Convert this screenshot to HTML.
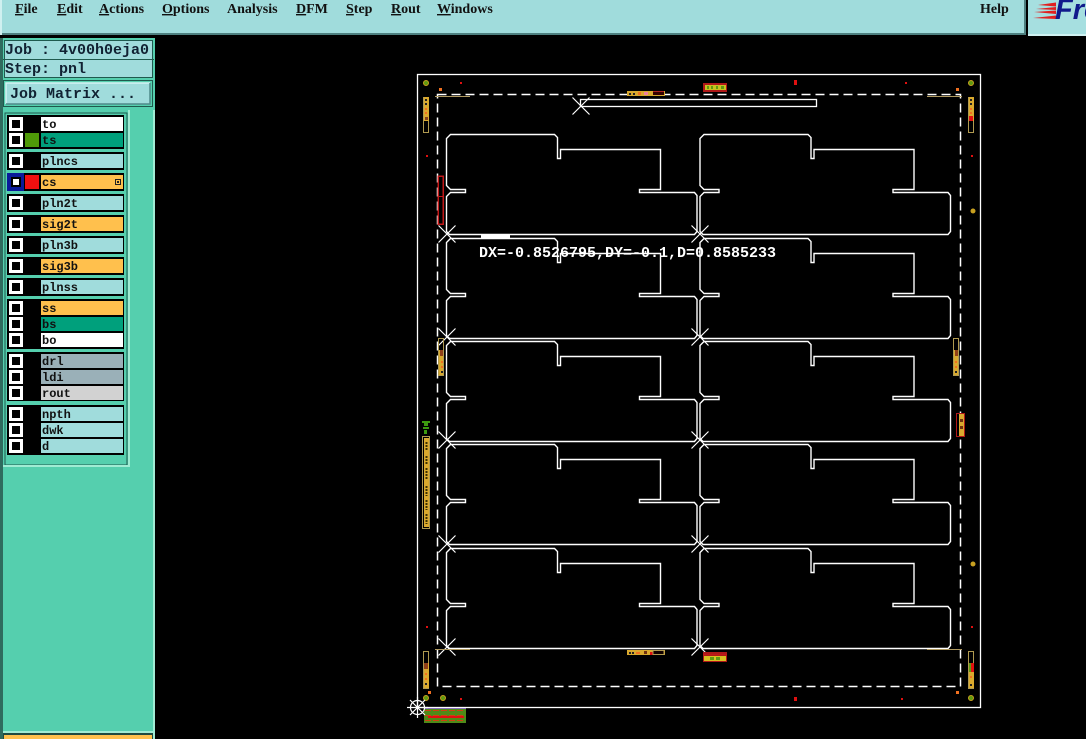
<!DOCTYPE html>
<html><head><meta charset="utf-8"><style>
html,body{margin:0;padding:0;background:#000;width:1086px;height:739px;overflow:hidden}
svg{display:block}
.m{font:bold 14px "Liberation Serif",serif;fill:#111}
.j{font:bold 15px "Liberation Mono",monospace;fill:#123}
.l{font:bold 12px "Liberation Mono",monospace;fill:#111}
.y{fill:#d9a92e}.r{fill:#e01010}.g{fill:#5f9a10}.o{fill:#f07020}
</style></head><body>
<svg width="1086" height="739" viewBox="0 0 1086 739" xmlns="http://www.w3.org/2000/svg">
<defs>
<path id="p" fill="none" stroke="#fff" stroke-width="1.400" d="M450.500,134.500H554.500L557.500,137.500V158.500H560.500V149.500H660.500V189.500H639.500V192.500H694.500L697,195.500V231.500L694.500,234.500H449.500L446.500,231.500V196.500L450.500,192.500H465.500V189.500H450.500L446.500,185.500V138.500Z"/>
<path id="x" fill="none" stroke="#fff" stroke-width="1.200" d="M-8.500,-8.500L8.500,8.500M8.500,-8.500L-8.500,8.500"/>
<g id="c"><rect x="9" y="0" width="14" height="14" fill="#fff"/><rect x="12" y="3" width="8" height="8" fill="#000"/></g>
</defs>

<rect width="1086" height="739" fill="#000"/>

<!-- menu bar -->
<rect x="0" y="0" width="1026" height="35" fill="#a0dcdc"/>
<rect x="0" y="33" width="1026" height="2" fill="#4e8080"/>
<rect x="1024" y="0" width="2" height="35" fill="#4e8080"/>
<rect x="0" y="0" width="2" height="35" fill="#d0f0f0"/>
<rect x="1026" y="0" width="2" height="38" fill="#000"/>
<rect x="1028" y="0" width="58" height="36" fill="#a6dfe0"/>
<rect x="1028" y="34" width="58" height="2" fill="#d0f2f2"/>
<g fill="#e02020"><polygon points="1034,12 1056,10.500 1056,14"/><polygon points="1038,5 1056,2.500 1056,6.500"/><polygon points="1033,18 1056,15.500 1056,19"/><polygon points="1036,9 1056,7 1056,10"/></g>
<text x="1055" y="19" font-family="Liberation Sans,sans-serif" font-weight="bold" font-style="italic" font-size="29" fill="#101a8c">Fre</text>
<g class="m">
<text x="15" y="13"><tspan text-decoration="underline">F</tspan>ile</text>
<text x="57" y="13"><tspan text-decoration="underline">E</tspan>dit</text>
<text x="99" y="13"><tspan text-decoration="underline">A</tspan>ctions</text>
<text x="162" y="13"><tspan text-decoration="underline">O</tspan>ptions</text>
<text x="227" y="13">Analysis</text>
<text x="296" y="13"><tspan text-decoration="underline">D</tspan>FM</text>
<text x="346" y="13"><tspan text-decoration="underline">S</tspan>tep</text>
<text x="391" y="13"><tspan text-decoration="underline">R</tspan>out</text>
<text x="437" y="13"><tspan text-decoration="underline">W</tspan>indows</text>
<text x="980" y="13">Help</text>
</g>

<!-- sidebar -->
<rect x="0" y="38" width="155" height="701" fill="#55cfae"/>
<rect x="0" y="38" width="3" height="701" fill="#2f6b5e"/>
<rect x="153" y="110" width="2" height="629" fill="#a0ecd4"/>
<rect x="3" y="38" width="152" height="72" fill="#55cfae"/>
<rect x="4.500" y="40.500" width="148" height="37" fill="#a0dcdc" stroke="#1f5a4e"/>
<rect x="3" y="59" width="151" height="1" fill="#1f5a4e"/>
<text x="5" y="54" class="j">Job : 4v00h0eja0</text>
<text x="5" y="73" class="j">Step: pnl</text>
<rect x="3.500" y="80.500" width="149" height="26" fill="#55cfae" stroke="#1f5a4e"/>
<rect x="6" y="83" width="144" height="21" fill="#a0dcdc"/>
<path d="M6,104V83H150" fill="none" stroke="#d4f4f4" stroke-width="1.500"/>
<path d="M6,104H150V83" fill="none" stroke="#4e8a8a" stroke-width="1.500"/>
<text x="10" y="98" class="j">Job Matrix ...</text>

<rect x="128" y="110" width="25" height="356" fill="#55cfae"/>
<rect x="128" y="110" width="2" height="356" fill="#a0ecd4"/>
<rect x="5" y="113" width="122" height="352" fill="#55cfae" stroke="#1f5a4e"/>
<rect x="3" y="465" width="127" height="2" fill="#a0ecd4"/>

<!-- layer groups -->
<g fill="#000">
<rect x="7" y="115" width="117" height="34"/>
<rect x="7" y="152" width="117" height="18"/>
<rect x="7" y="173" width="117" height="18"/>
<rect x="7" y="194" width="117" height="18"/>
<rect x="7" y="215" width="117" height="18"/>
<rect x="7" y="236" width="117" height="18"/>
<rect x="7" y="257" width="117" height="18"/>
<rect x="7" y="278" width="117" height="18"/>
<rect x="7" y="299" width="117" height="50"/>
<rect x="7" y="352" width="117" height="49"/>
<rect x="7" y="405" width="117" height="50"/>
</g>
<rect x="41" y="117" width="82" height="14" fill="#fff"/>
<rect x="41" y="133" width="82" height="14" fill="#00a07c"/>
<rect x="41" y="154" width="82" height="14" fill="#a0dcdc"/>
<rect x="41" y="175" width="82" height="14" fill="#ffc04d"/>
<rect x="41" y="196" width="82" height="14" fill="#a0dcdc"/>
<rect x="41" y="217" width="82" height="14" fill="#ffc04d"/>
<rect x="41" y="238" width="82" height="14" fill="#a0dcdc"/>
<rect x="41" y="259" width="82" height="14" fill="#ffc04d"/>
<rect x="41" y="280" width="82" height="14" fill="#a0dcdc"/>
<rect x="41" y="301" width="82" height="14" fill="#ffc04d"/>
<rect x="41" y="317" width="82" height="14" fill="#00a07c"/>
<rect x="41" y="333" width="82" height="14" fill="#fff"/>
<rect x="41" y="354" width="82" height="14" fill="#9ab0b8"/>
<rect x="41" y="370" width="82" height="14" fill="#9ab0b8"/>
<rect x="41" y="386" width="82" height="14" fill="#d2d2d2"/>
<rect x="41" y="407" width="82" height="14" fill="#a0dcdc"/>
<rect x="41" y="423" width="82" height="14" fill="#a0dcdc"/>
<rect x="41" y="439" width="82" height="14" fill="#a0dcdc"/>
<rect x="25" y="133" width="14" height="14" fill="#4f9a08"/>
<rect x="25" y="175" width="14" height="14" fill="#f01010"/>
<rect x="7" y="173" width="17" height="18" fill="#0a1a9a"/>
<use href="#c" y="117"/><use href="#c" y="133"/><use href="#c" y="154"/>
<rect x="11" y="177" width="10" height="10" fill="#000"/><rect x="13" y="179" width="6" height="6" fill="#fff"/>
<use href="#c" y="196"/><use href="#c" y="217"/><use href="#c" y="238"/><use href="#c" y="259"/><use href="#c" y="280"/>
<use href="#c" y="301"/><use href="#c" y="317"/><use href="#c" y="333"/>
<use href="#c" y="354"/><use href="#c" y="370"/><use href="#c" y="386"/>
<use href="#c" y="407"/><use href="#c" y="423"/><use href="#c" y="439"/>
<g class="l">
<text x="42" y="128">to</text><text x="42" y="144">ts</text><text x="42" y="165">plncs</text>
<text x="42" y="186">cs</text><text x="42" y="207">pln2t</text><text x="42" y="228">sig2t</text>
<text x="42" y="249">pln3b</text><text x="42" y="270">sig3b</text><text x="42" y="291">plnss</text>
<text x="42" y="312">ss</text><text x="42" y="328">bs</text><text x="42" y="344">bo</text>
<text x="42" y="365">drl</text><text x="42" y="381">ldi</text><text x="42" y="397">rout</text>
<text x="42" y="418">npth</text><text x="42" y="434">dwk</text><text x="42" y="450">d</text>
</g>
<rect x="115.500" y="179.500" width="5" height="5" fill="none" stroke="#222"/>
<rect x="117" y="181" width="2" height="2" fill="#222"/>
<rect x="3" y="731" width="152" height="2" fill="#a0ecd4"/>
<rect x="3" y="733" width="150" height="6" fill="#1f4a40"/>
<rect x="4" y="735" width="148" height="4" fill="#ffc04d"/>

<!-- board -->
<rect x="417.500" y="74.500" width="563" height="633" fill="none" stroke="#fff" stroke-width="1.300"/>
<rect x="437.500" y="94.500" width="523" height="592" fill="none" stroke="#fff" stroke-width="1.500" stroke-dasharray="9 5"/>
<rect x="580.500" y="99.500" width="236" height="7" fill="none" stroke="#fff" stroke-width="1.300"/>
<rect x="481" y="235" width="29" height="3" fill="#fff"/>
<g>
<use href="#p"/><use href="#p" x="253.500"/>
<use href="#p" y="104"/><use href="#p" x="253.500" y="104"/>
<use href="#p" y="207"/><use href="#p" x="253.500" y="207"/>
<use href="#p" y="310"/><use href="#p" x="253.500" y="310"/>
<use href="#p" y="414"/><use href="#p" x="253.500" y="414"/>
</g>
<use href="#x" x="581" y="106"/>
<use href="#x" x="447" y="234"/><use href="#x" x="700" y="234"/>
<use href="#x" x="447" y="337"/><use href="#x" x="700" y="337"/>
<use href="#x" x="447" y="440"/><use href="#x" x="700" y="440"/>
<use href="#x" x="447" y="544"/><use href="#x" x="700" y="544"/>
<use href="#x" x="447" y="647"/><use href="#x" x="700" y="647"/>
<text x="479" y="257" font-family="Liberation Mono,monospace" font-size="15" fill="#fff" font-weight="bold">DX=-0.8526795,DY=-0.1,D=0.8585233</text>

<!-- details -->
<g shape-rendering="crispEdges">
<rect x="435" y="96" width="35" height="1" fill="#b09a60"/>
<rect x="927" y="96" width="35" height="1" fill="#b09a60"/>
<rect x="435" y="649" width="35" height="1" fill="#b09a60"/>
<rect x="927" y="649" width="35" height="1" fill="#b09a60"/>
<rect x="460" y="82" width="2" height="2" class="r"/>
<rect x="439" y="88" width="3" height="3" class="o"/>
<rect x="426" y="155" width="2" height="2" class="r"/>
<rect x="971" y="155" width="2" height="2" class="r"/>
<rect x="905" y="82" width="2" height="2" class="r"/>
<rect x="794" y="80" width="3" height="5" class="r"/>
<rect x="956" y="88" width="3" height="3" class="o"/>
<rect x="426" y="626" width="2" height="2" class="r"/>
<rect x="971" y="626" width="2" height="2" class="r"/>
<rect x="460" y="698" width="2" height="2" class="r"/>
<rect x="901" y="698" width="2" height="2" class="r"/>
<rect x="794" y="697" width="3" height="4" class="r"/>
<rect x="428" y="691" width="3" height="3" class="o"/>
<rect x="956" y="691" width="3" height="3" class="o"/>

<rect x="423.500" y="97.500" width="5" height="35" fill="none" stroke="#b09a50"/>
<rect x="424" y="97" width="5" height="24" class="y"/>
<rect x="425" y="99" width="2" height="2" fill="#222"/><rect x="425" y="103" width="2" height="2" fill="#222"/>
<rect x="425" y="108" width="2" height="2" class="o"/><rect x="425" y="112" width="2" height="2" class="o"/><rect x="425" y="117" width="3" height="3" fill="#804020"/>

<rect x="968.500" y="97.500" width="5" height="35" fill="none" stroke="#b09a50"/>
<rect x="969" y="97" width="5" height="24" class="y"/>
<rect x="970" y="99" width="2" height="2" fill="#222"/><rect x="970" y="103" width="2" height="2" fill="#222"/>
<rect x="970" y="108" width="2" height="2" class="o"/><rect x="970" y="112" width="2" height="2" class="o"/><rect x="969" y="116" width="4" height="5" class="r"/>

<rect x="627" y="91" width="38" height="5" class="y"/>
<rect x="629" y="93" width="2" height="2" fill="#222"/><rect x="633" y="93" width="2" height="2" fill="#222"/><rect x="638" y="92" width="3" height="3" class="o"/><rect x="644" y="92" width="4" height="3" fill="#f080a0"/>
<rect x="653" y="92" width="11" height="3" fill="#300"/><rect x="653" y="91" width="11" height="1" fill="#b02020"/>

<rect x="703" y="83" width="24" height="9" fill="#b01818"/>
<rect x="705" y="85" width="21" height="5" fill="#c8c020"/>
<rect x="707" y="86" width="2" height="3" class="g"/><rect x="711" y="86" width="2" height="3" class="g"/><rect x="716" y="86" width="2" height="3" class="g"/><rect x="721" y="86" width="3" height="3" class="g"/>

<rect x="438" y="176" width="5" height="48" fill="none" stroke="#c01818" stroke-width="1.500"/>
<rect x="438" y="196" width="5" height="1" fill="#c01818"/>

<rect x="439" y="350" width="5" height="25" class="y"/>
<rect x="438.500" y="338.500" width="5" height="37" fill="none" stroke="#b09a50"/>
<rect x="440" y="350" width="3" height="6" fill="#904018"/><rect x="441" y="361" width="2" height="2" class="o"/><rect x="441" y="366" width="2" height="2" class="o"/><rect x="441" y="371" width="2" height="2" fill="#222"/>

<rect x="954" y="350" width="5" height="25" class="y"/>
<rect x="953.500" y="338.500" width="5" height="37" fill="none" stroke="#b09a50"/>
<rect x="955" y="350" width="3" height="6" fill="#904018"/><rect x="955" y="361" width="2" height="2" class="o"/><rect x="955" y="366" width="2" height="2" class="o"/><rect x="955" y="371" width="2" height="2" fill="#222"/>

<rect x="956.500" y="413.500" width="8" height="23" fill="none" stroke="#b01818"/>
<rect x="959" y="414" width="5" height="22" class="y"/><rect x="960" y="419" width="3" height="3" fill="#703010"/><rect x="960" y="426" width="3" height="3" fill="#703010"/>

<rect x="424" y="421" width="4" height="5" fill="#3c9a10"/><rect x="422" y="421" width="8" height="2" fill="#3c9a10"/><rect x="423" y="427" width="6" height="2" fill="#3c9a10"/><rect x="424" y="430" width="3" height="4" fill="#3c9a10"/>

<rect x="422.500" y="436.500" width="7" height="92" fill="none" stroke="#b09a50"/>
<rect x="424" y="438" width="5" height="89" class="y"/>
<path d="M426.500,442V451M426.500,456V464M426.500,468V479M426.500,486V496M426.500,500V510M426.500,514V524" stroke="#3a3000" stroke-width="2" stroke-dasharray="2 1" fill="none"/>

<rect x="423.500" y="651.500" width="5" height="37" fill="none" stroke="#b09a50"/>
<rect x="424" y="663" width="5" height="25" class="y"/>
<rect x="424" y="663" width="4" height="6" fill="#904018"/><rect x="425" y="673" width="2" height="2" class="o"/><rect x="425" y="678" width="2" height="2" class="o"/><rect x="425" y="683" width="2" height="2" fill="#222"/>

<rect x="968.500" y="651.500" width="5" height="37" fill="none" stroke="#b09a50"/>
<rect x="969" y="663" width="5" height="25" class="y"/>
<rect x="969" y="663" width="2" height="9" class="g"/><rect x="971" y="663" width="3" height="9" class="r"/><rect x="970" y="676" width="2" height="2" class="o"/><rect x="970" y="684" width="2" height="2" fill="#222"/>

<rect x="627" y="650" width="38" height="5" class="y"/>
<rect x="629" y="652" width="2" height="2" fill="#222"/><rect x="632" y="652" width="2" height="2" fill="#222"/><rect x="636" y="652" width="4" height="2" class="o"/><rect x="644" y="651" width="3" height="3" fill="#703010"/><rect x="650" y="652" width="3" height="3" class="r"/>
<rect x="653" y="650.500" width="11" height="4" fill="#100" stroke="#b09a50"/>

<rect x="703" y="652" width="24" height="10" fill="#b01818"/>
<rect x="704" y="656" width="22" height="5" fill="#d8c020"/>
<rect x="703" y="654" width="24" height="1" fill="#c01818"/>
<rect x="710" y="657" width="4" height="3" class="g"/><rect x="716" y="657" width="4" height="3" class="g"/>

<rect x="424" y="708" width="42" height="15" fill="#4f8a18"/>
<rect x="424" y="708" width="42" height="1" fill="#8a70c0"/>
<path d="M425,710.500H465M425,715.500H465M425,720.500H465" stroke="#d04010" stroke-dasharray="6 2" fill="none"/>
<rect x="428" y="716" width="36" height="2" fill="#e01010"/>
</g>

<circle cx="426" cy="83" r="2.500" fill="#5f9a10" stroke="#c8a020"/>
<circle cx="971" cy="83" r="2.500" fill="#5f9a10" stroke="#c8a020"/>
<circle cx="426" cy="698" r="2.500" fill="#5f9a10" stroke="#c8a020"/>
<circle cx="443" cy="698" r="2.500" fill="#5f9a10" stroke="#c8a020"/>
<circle cx="971" cy="698" r="2.500" fill="#5f9a10" stroke="#c8a020"/>
<circle cx="973" cy="211" r="2.500" fill="#c8a020"/>
<circle cx="973" cy="564" r="2.500" fill="#c8a020"/>

<g fill="none" stroke="#fff" stroke-width="1.200">
<circle cx="417.500" cy="707.500" r="7"/>
<path d="M407,707.500H428M417.500,697V718M410,700L425,715M425,700L410,715"/>
</g>
</svg>
</body></html>
